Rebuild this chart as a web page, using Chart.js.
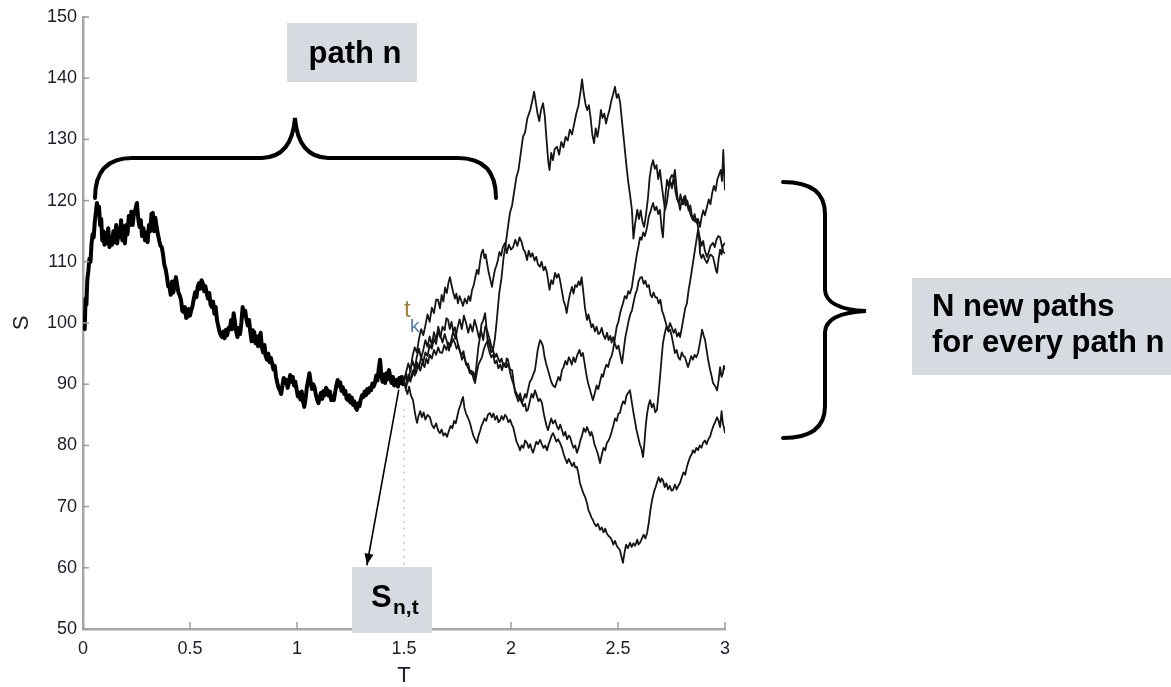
<!DOCTYPE html>
<html>
<head>
<meta charset="utf-8">
<title>Branching paths</title>
<script src="https://cdn.jsdelivr.net/npm/chart.js@4.4.1/dist/chart.umd.min.js"></script>
<style>
  html, body { margin: 0; padding: 0; background: #fff; }
  #wrap { width: 1171px; height: 687px; }
</style>
</head>
<body>
<div id="wrap"><canvas id="chart" width="1171" height="687"></canvas></div>
<script>
// axis ticks
const xTicks = [0, 0.5, 1, 1.5, 2, 2.5, 3];
const yTicks = [50, 60, 70, 80, 90, 100, 110, 120, 130, 140, 150];

// path n as [T, S]
const pathN = [
  [0.000,99.5],[0.004,101],[0.008,99],[0.012,104],[0.016,103],[0.020,107],[0.025,108.5],[0.030,110.5],[0.035,110],[0.040,113],
  [0.045,114.5],[0.050,114],[0.055,116.5],[0.060,118],[0.065,119.6],[0.070,118],[0.075,119],[0.080,116],[0.085,117],[0.090,113.5],
  [0.095,115],[0.100,112.8],[0.106,114.7],[0.112,113],[0.118,115.5],[0.124,112.4],[0.130,114],[0.136,112.8],[0.142,115],[0.148,113.2],
  [0.155,116],[0.160,113],[0.166,115.5],[0.172,114],[0.178,116.8],[0.184,113.5],[0.190,115.8],[0.196,113],[0.202,116],[0.208,114.5],
  [0.214,117.5],[0.220,116],[0.226,118.2],[0.232,116],[0.238,117.8],[0.244,118.5],[0.252,119.6],[0.258,117],[0.264,115.7],[0.270,116.8],
  [0.276,114.2],[0.282,115.5],[0.290,113.5],[0.296,114.8],[0.302,113.2],[0.308,116],[0.314,115],[0.320,117.8],[0.326,118],[0.332,115],
  [0.338,117.2],[0.344,115.7],[0.350,114.5],[0.356,113.5],[0.362,112.6],[0.368,112.4],[0.374,111.2],[0.380,109.5],[0.386,108.8],[0.392,107.6],
  [0.398,106],[0.404,105.9],[0.410,104.6],[0.416,106.8],[0.422,105],[0.428,106.2],[0.434,107.5],[0.440,106.2],[0.446,105],[0.452,104.5],
  [0.458,103.8],[0.464,102],[0.470,101.8],[0.476,102.6],[0.482,100.8],[0.488,101],[0.494,102.3],[0.500,101.2],[0.506,102.1],[0.512,102.8],
  [0.518,104],[0.524,105],[0.530,104.2],[0.536,105.9],[0.542,106.5],[0.548,105.6],[0.554,107],[0.560,106.5],[0.566,105.2],[0.572,106],
  [0.578,104.9],[0.584,104],[0.590,104.9],[0.596,103],[0.602,102.6],[0.608,103.5],[0.614,101.5],[0.620,102.6],[0.626,100.5],[0.632,99.5],
  [0.638,98.6],[0.644,98],[0.650,97.7],[0.656,98.6],[0.662,97.5],[0.668,98.9],[0.674,98],[0.680,99.2],[0.686,98.9],[0.692,100.5],
  [0.698,99],[0.704,101.6],[0.710,100.2],[0.716,98.6],[0.722,97.7],[0.728,99.2],[0.734,98.2],[0.740,100],[0.746,102.6],[0.752,101.2],
  [0.758,102],[0.764,100.5],[0.770,99.6],[0.776,100.5],[0.782,98.5],[0.788,97],[0.794,98.8],[0.800,98.5],[0.806,96.7],[0.812,97.8],
  [0.818,96.2],[0.824,97.5],[0.830,98.4],[0.836,96],[0.842,95.2],[0.848,96.4],[0.854,94.5],[0.860,94],[0.866,95],[0.872,93.6],
  [0.878,94.3],[0.884,93.4],[0.890,92.4],[0.896,93],[0.902,91.2],[0.908,90.2],[0.914,89.4],[0.920,89],[0.926,88.4],[0.932,89.8],
  [0.938,91],[0.944,90.2],[0.950,90.7],[0.956,89.4],[0.962,90.2],[0.968,91.5],[0.974,90.4],[0.980,91.2],[0.986,89.8],[0.992,90.4],
  [0.998,89.2],[1.004,88],[1.010,88.6],[1.016,87.5],[1.022,88.8],[1.028,87.2],[1.034,86.3],[1.040,87.6],[1.046,89.5],[1.052,90.6],
  [1.058,91.8],[1.064,90.4],[1.070,89.2],[1.076,90],[1.082,89.5],[1.088,88.3],[1.094,87.5],[1.100,86.9],[1.106,87.8],[1.112,88.6],
  [1.118,87.6],[1.124,88.9],[1.130,88.2],[1.136,89.4],[1.142,89],[1.148,88.1],[1.154,88.8],[1.160,87.4],[1.166,88],[1.172,87.4],
  [1.178,88.6],[1.184,89.8],[1.190,90.7],[1.196,89.7],[1.202,90.3],[1.208,88.9],[1.214,89.5],[1.220,88.4],[1.226,88.9],[1.232,87.6],
  [1.238,87.4],[1.244,88.2],[1.250,87],[1.256,87.8],[1.262,86.6],[1.268,87.2],[1.274,86.2],[1.280,85.8],[1.286,86.9],[1.292,86.4],
  [1.298,87.5],[1.304,88.2],[1.310,87.9],[1.316,88.8],[1.322,88.2],[1.328,89.2],[1.334,88.6],[1.340,89.4],[1.346,89],[1.352,90.1],
  [1.358,89.6],[1.364,90.2],[1.370,91.4],[1.376,90.6],[1.382,92.5],[1.388,94],[1.394,91.5],[1.400,90.4],[1.406,91.6],[1.412,90.2],
  [1.418,91.8],[1.424,90.8],[1.430,92.3],[1.436,91],[1.442,90.2],[1.448,91.2],[1.454,89.8],[1.460,90.6],[1.466,90.7],[1.472,89.6],
  [1.478,91],[1.484,90.2],[1.490,91.2],[1.495,90],[1.500,90.5]
];

// the N new paths from t = 1.5
const pathA = [
  [1.500,90.5],[1.510,91.8],[1.520,90.6],[1.530,92.4],[1.540,93.8],[1.550,92.6],[1.560,94.5],[1.570,95.8],[1.580,94.2],[1.590,95.6],
  [1.600,97.2],[1.610,96.1],[1.620,97.8],[1.630,96.4],[1.640,98.5],[1.650,97.2],[1.660,99.4],[1.670,98],[1.680,96.8],[1.690,98.2],
  [1.700,97],[1.710,95.5],[1.720,97.1],[1.730,98.6],[1.740,97.4],[1.750,99.2],[1.760,100.6],[1.770,99],[1.780,101.2],[1.790,100],
  [1.800,98.4],[1.810,99.8],[1.820,98.6],[1.830,100.5],[1.840,99.2],[1.850,97.6],[1.860,98.8],[1.870,97.2],[1.880,99.5],[1.890,98.6],
  [1.900,97.4],[1.910,96],[1.916,95.6],[1.925,97.5],[1.935,101],[1.945,104.9],[1.955,107.2],[1.965,110.6],[1.975,112.8],[1.985,115.5],
  [1.995,118],[2.005,119.2],[2.015,121.5],[2.025,123.8],[2.035,125],[2.045,127.6],[2.056,130.4],[2.066,131.2],[2.076,133.4],[2.090,134.8],
  [2.100,136.4],[2.108,137.8],[2.116,136],[2.124,134.2],[2.132,133],[2.140,134.8],[2.150,135.9],[2.158,133.8],[2.166,130],[2.174,126.4],
  [2.180,125],[2.188,127.8],[2.196,126.6],[2.204,128.4],[2.215,128.8],[2.225,127.5],[2.235,129.6],[2.245,128.7],[2.255,130.4],[2.265,129.8],
  [2.275,131.6],[2.285,130.8],[2.295,132.5],[2.305,134.2],[2.315,135.5],[2.325,137.8],[2.332,139.8],[2.340,137.5],[2.348,135.8],[2.356,134.8],
  [2.364,135.6],[2.372,133.5],[2.380,130.8],[2.388,129.4],[2.396,131.8],[2.404,130.4],[2.412,132.2],[2.420,134.8],[2.428,133.5],[2.436,134.2],
  [2.444,132.6],[2.452,133.8],[2.460,134.8],[2.468,136.2],[2.476,137.2],[2.486,138.6],[2.494,136.8],[2.502,137.4],[2.510,136],[2.520,132.5],
  [2.530,129],[2.540,125.5],[2.548,123],[2.556,121],[2.565,118.5],[2.572,113.8],[2.580,116.2],[2.590,118.5],[2.598,117],[2.606,118.4],
  [2.614,116.6],[2.622,115.7],[2.630,117.5],[2.640,120.4],[2.648,123.8],[2.656,125.6],[2.664,126.6],[2.672,125.2],[2.680,125.8],[2.688,123.5],
  [2.696,125],[2.704,122.6],[2.712,120.4],[2.720,118.5],[2.728,119.6],[2.736,121.8],[2.744,123.2],[2.752,122],[2.760,123.9],[2.768,121.6],
  [2.776,120.2],[2.784,119.6],[2.792,121],[2.800,119.4],[2.808,120.6],[2.816,119.2],[2.824,120],[2.832,118.6],[2.840,117.6],[2.850,116.8],
  [2.858,117.8],[2.866,116.4],[2.874,117],[2.883,115.7],[2.890,117.2],[2.898,118.4],[2.906,117.6],[2.916,119],[2.924,120.2],[2.932,119.4],
  [2.940,121.2],[2.948,122.4],[2.956,121.6],[2.964,123.4],[2.972,124.2],[2.980,125],[2.986,123.2],[2.992,128.3],[2.996,124.5],[3.000,121.7]
];

const pathB = [
  [1.500,90.5],[1.510,92],[1.520,93.4],[1.530,92.2],[1.540,94.6],[1.550,96],[1.560,95.2],[1.570,97.4],[1.580,99],[1.590,98],
  [1.600,99.6],[1.610,101.4],[1.620,100.2],[1.630,102.5],[1.640,101.6],[1.650,103.8],[1.659,103.8],[1.668,102.4],[1.676,104.6],[1.684,103.5],
  [1.692,105.8],[1.700,104.9],[1.708,106.6],[1.715,107.5],[1.722,106.2],[1.730,105],[1.738,104],[1.745,104.8],[1.752,103.2],[1.760,104.4],
  [1.768,103.6],[1.776,102.8],[1.784,104],[1.794,103.2],[1.802,104.4],[1.810,103.6],[1.818,105.4],[1.826,106.2],[1.834,107.6],[1.841,108.7],
  [1.848,108],[1.856,110.2],[1.862,111.4],[1.869,112],[1.876,110.6],[1.882,111.2],[1.888,109.8],[1.896,108.2],[1.904,107],[1.911,105.9],
  [1.918,107.4],[1.925,108.7],[1.932,109.4],[1.939,110.3],[1.946,111.6],[1.954,111],[1.962,112.4],[1.972,113.1],[1.980,111.4],[1.990,112.8],
  [2.000,112],[2.010,112.4],[2.020,113.6],[2.030,112.6],[2.040,114],[2.050,113.2],[2.058,112],[2.066,111.6],[2.075,110.3],[2.083,111.8],
  [2.092,110.8],[2.100,111.4],[2.110,110.2],[2.118,110.8],[2.126,109.6],[2.135,109.2],[2.143,110],[2.152,108.6],[2.160,109.2],[2.168,108.2],
  [2.175,106.6],[2.180,105.4],[2.188,107],[2.196,106.4],[2.206,108.2],[2.214,107.4],[2.222,108],[2.229,107],[2.238,105.2],[2.246,103.6],
  [2.254,102.8],[2.260,101.6],[2.268,103.4],[2.276,104.8],[2.285,105.9],[2.292,104.8],[2.300,106.2],[2.308,105.9],[2.316,106.8],[2.323,106.2],
  [2.330,107.5],[2.338,105],[2.346,102.4],[2.355,100.5],[2.362,101.4],[2.370,100.2],[2.376,99.3],[2.383,99.8],[2.392,98.6],[2.400,99.4],
  [2.408,98.2],[2.416,98.4],[2.424,99.2],[2.432,98],[2.440,97.4],[2.449,98.4],[2.456,97.2],[2.464,97.9],[2.470,96.8],[2.477,97.7],
  [2.486,96.6],[2.494,95.8],[2.502,96.3],[2.509,95.1],[2.514,94.2],[2.519,93.4],[2.526,95.4],[2.534,97.6],[2.542,99],[2.550,100.4],
  [2.558,101.5],[2.565,102],[2.574,103.6],[2.582,104.8],[2.589,105.4],[2.596,106.8],[2.604,107.4],[2.612,107.5],[2.620,106.4],[2.628,106.9],
  [2.636,105.9],[2.644,106.2],[2.652,104.6],[2.659,104.2],[2.666,105],[2.674,104.2],[2.682,104.2],[2.690,103.2],[2.698,103.8],[2.706,102],
  [2.714,101.2],[2.722,100.2],[2.729,99.3],[2.736,98.6],[2.744,98.9],[2.752,97.7],[2.758,96.6],[2.766,95.1],[2.774,95.6],[2.782,94.4],
  [2.790,94],[2.798,95.2],[2.806,94.6],[2.813,94.4],[2.820,93.6],[2.827,92.8],[2.834,93.6],[2.842,94.6],[2.850,94],[2.858,94.8],
  [2.866,94.4],[2.874,95.1],[2.884,97],[2.893,98.9],[2.900,98],[2.907,97.2],[2.914,95.6],[2.921,94],[2.930,92.4],[2.937,91.4],
  [2.944,90.2],[2.952,89.8],[2.958,89.4],[2.963,89],[2.970,90.6],[2.977,92.8],[2.984,91.2],[2.990,91.8],[2.995,93],[3.000,92.3]
];

const pathC = [
  [1.500,90.5],[1.510,89.4],[1.520,91.2],[1.530,90.4],[1.540,92.2],[1.550,91.4],[1.560,93.6],[1.570,92.8],[1.580,94.4],[1.590,93.6],
  [1.600,95.2],[1.610,94.6],[1.620,96.4],[1.630,95.8],[1.640,97.4],[1.650,96.6],[1.660,98.8],[1.670,97.6],[1.680,99.4],[1.690,98.8],
  [1.698,100.8],[1.706,100.5],[1.714,99],[1.722,100.2],[1.730,98.6],[1.738,99.3],[1.746,97.6],[1.754,96.2],[1.762,95.4],[1.771,94],
  [1.780,94.8],[1.790,93.2],[1.799,93.4],[1.808,92.2],[1.816,91.6],[1.824,92],[1.832,90.7],[1.840,93.6],[1.848,96.2],[1.855,97.7],
  [1.862,99.8],[1.870,100.4],[1.879,101.6],[1.886,99],[1.893,96.1],[1.900,95.2],[1.908,94.4],[1.916,94.8],[1.925,93.4],[1.933,93.9],
  [1.941,92.6],[1.950,93.2],[1.958,92.3],[1.966,93.4],[1.974,92.8],[1.980,94.2],[1.986,94],[1.994,92.2],[2.002,91],[2.010,90.2],
  [2.019,89],[2.027,88.4],[2.035,87.8],[2.043,88.5],[2.051,86.9],[2.058,87.6],[2.066,88.4],[2.072,87.8],[2.079,89],[2.088,90.4],
  [2.096,90.8],[2.104,91.6],[2.112,92.3],[2.118,93.8],[2.124,95.4],[2.130,96.4],[2.136,97.2],[2.143,96.8],[2.150,96.1],[2.157,94.4],
  [2.164,93.4],[2.173,92.3],[2.180,91.4],[2.188,90.4],[2.196,89.8],[2.206,89.5],[2.214,90.4],[2.222,91.2],[2.230,90.6],[2.238,92.3],
  [2.246,92.8],[2.254,93.8],[2.262,93.2],[2.270,94.4],[2.276,94],[2.284,93.2],[2.292,94.4],[2.300,93.6],[2.310,94.8],[2.320,95.6],
  [2.328,94.6],[2.336,95.1],[2.344,93.4],[2.352,91.6],[2.360,90.2],[2.368,89.2],[2.376,88.2],[2.383,87.4],[2.392,88.6],[2.400,89.8],
  [2.408,89.2],[2.416,90.4],[2.424,91.6],[2.430,91.2],[2.438,92.4],[2.446,93.2],[2.454,92.8],[2.462,94],[2.470,94.6],[2.477,95.6],
  [2.486,97.6],[2.494,99.4],[2.502,100.2],[2.510,101.6],[2.516,102.4],[2.523,103.2],[2.532,104.4],[2.540,104],[2.548,105.2],[2.556,104.8],
  [2.565,105.9],[2.572,107.6],[2.580,109.4],[2.588,111.2],[2.596,112.6],[2.603,114],[2.610,113.6],[2.618,114.8],[2.626,114.2],[2.636,115.7],
  [2.644,117.4],[2.652,118.2],[2.658,119],[2.664,119.6],[2.672,118.4],[2.680,119],[2.688,117.8],[2.696,118.5],[2.704,115.4],[2.710,114],
  [2.716,117.6],[2.722,121],[2.729,123.4],[2.736,122.4],[2.744,123.6],[2.752,124.2],[2.760,123.8],[2.766,125],[2.772,122.6],[2.778,120.4],
  [2.784,119.6],[2.790,118.5],[2.798,120.2],[2.806,119.4],[2.814,120.8],[2.822,119.6],[2.830,118.4],[2.838,119.2],[2.845,117.6],[2.850,117.3],
  [2.858,116.6],[2.866,117],[2.874,115.7],[2.880,113.2],[2.883,111.4],[2.890,110.6],[2.898,111.2],[2.906,110.4],[2.916,109.8],[2.924,110.6],
  [2.932,111.2],[2.944,110.8],[2.952,109.6],[2.958,108.6],[2.963,108.2],[2.970,110.4],[2.977,112],[2.984,111.2],[2.990,112.6],[3.000,113.1]
];

const pathD = [
  [1.500,90.5],[1.508,91.4],[1.516,90.2],[1.524,91.6],[1.530,90.8],[1.537,91.2],[1.546,92.4],[1.556,91.8],[1.566,93],[1.576,92.2],
  [1.586,93.6],[1.596,92.8],[1.604,94.2],[1.612,93.4],[1.620,94.8],[1.630,94.2],[1.640,95.6],[1.650,94.8],[1.660,96],[1.668,95.2],
  [1.678,95.1],[1.688,96.4],[1.698,95.6],[1.708,96.8],[1.718,96.2],[1.728,97.4],[1.738,96.7],[1.746,95.8],[1.754,96.4],[1.762,95.2],
  [1.770,94.8],[1.778,95.4],[1.785,94],[1.792,93.2],[1.800,92.6],[1.808,91.8],[1.816,92.2],[1.824,91],[1.832,90.2],[1.840,91.8],
  [1.848,93.2],[1.856,93.8],[1.864,94.4],[1.872,95.6],[1.880,96.4],[1.886,96.8],[1.893,97.2],[1.900,96.4],[1.908,95.2],[1.916,95.6],
  [1.925,94.4],[1.932,95],[1.940,94.2],[1.948,93.6],[1.956,94.2],[1.964,93],[1.972,93.4],[1.980,92.8],[1.988,93.4],[1.996,92.4],
  [2.005,92.3],[2.012,90.4],[2.019,88.6],[2.026,88],[2.034,87.2],[2.042,87.8],[2.051,86.9],[2.058,86.4],[2.066,86.8],[2.072,85.6],
  [2.079,85.8],[2.088,87.2],[2.096,88.4],[2.104,87.8],[2.112,89],[2.120,88.2],[2.128,87.2],[2.136,87.6],[2.145,86.9],[2.152,85.4],
  [2.158,84.4],[2.166,83.2],[2.173,82.5],[2.180,83.4],[2.188,84.4],[2.196,83.6],[2.206,84.1],[2.214,83.2],[2.222,82.6],[2.230,83.4],
  [2.238,82.5],[2.246,81.6],[2.254,82.2],[2.262,81],[2.270,81.6],[2.276,81.4],[2.284,80.4],[2.292,79.6],[2.300,80],[2.308,78.8],
  [2.316,79.6],[2.324,80.8],[2.332,81.6],[2.340,82.8],[2.348,82.2],[2.355,83],[2.362,82.4],[2.370,81.6],[2.376,82.2],[2.383,81.4],
  [2.390,80.2],[2.398,79.4],[2.406,78.6],[2.416,77.1],[2.424,78.4],[2.432,79.6],[2.440,79.2],[2.448,80.4],[2.456,80.8],[2.463,81.4],
  [2.470,82.2],[2.478,83.2],[2.486,84.4],[2.494,84],[2.502,85.2],[2.509,85.3],[2.516,86.4],[2.524,87.2],[2.532,86.8],[2.540,88.2],
  [2.548,88.6],[2.556,89],[2.563,87.4],[2.570,85.8],[2.578,84.2],[2.586,82.6],[2.594,81.4],[2.602,80.2],[2.610,79.4],[2.617,78.1],
  [2.624,80.6],[2.630,83.4],[2.636,85.2],[2.643,86.6],[2.650,87.4],[2.658,86.2],[2.666,86.8],[2.674,85.4],[2.682,85.8],[2.690,88.6],
  [2.698,91.8],[2.704,94.4],[2.710,96.7],[2.718,98.2],[2.726,99.4],[2.734,98.8],[2.743,100],[2.752,99.2],[2.760,98.4],[2.768,99],
  [2.776,97.8],[2.784,98.4],[2.790,97.7],[2.798,99.2],[2.806,100.8],[2.814,102.4],[2.822,103.2],[2.830,105.4],[2.838,107],[2.845,108.6],
  [2.850,109.8],[2.858,111.6],[2.866,113.4],[2.874,115.2],[2.882,114],[2.890,112.6],[2.898,113.4],[2.906,111.8],[2.916,110.8],[2.924,111.6],
  [2.932,112.6],[2.944,113.1],[2.952,112.4],[2.960,113.6],[2.968,114.2],[2.977,114],[2.984,112.8],[2.992,111.6],[3.000,111.4]
];

const pathE = [
  [1.500,90.5],[1.508,89.2],[1.516,88.4],[1.524,89.6],[1.532,88.2],[1.542,87.4],[1.550,85.6],[1.556,84.4],[1.561,83.7],[1.568,84.8],
  [1.576,85.6],[1.584,84.6],[1.592,85.4],[1.600,84.2],[1.610,85],[1.621,84.6],[1.630,83.4],[1.640,82.8],[1.650,83.6],[1.660,82.4],
  [1.668,82],[1.676,82.6],[1.684,81.6],[1.692,82],[1.701,81.4],[1.710,82.4],[1.718,83.2],[1.726,82.8],[1.734,84],[1.742,83.6],
  [1.748,84.6],[1.756,85.8],[1.764,86.6],[1.770,87.4],[1.776,87.9],[1.782,86.2],[1.790,85.2],[1.798,84.6],[1.808,83.7],[1.816,82.6],
  [1.824,81.6],[1.832,81],[1.841,80.4],[1.848,81.6],[1.856,82.4],[1.862,83.2],[1.869,83.7],[1.876,84.4],[1.884,84],[1.892,85],
  [1.902,85.3],[1.910,84.6],[1.918,85.2],[1.926,84.2],[1.934,84.8],[1.942,83.8],[1.949,84.1],[1.956,84.8],[1.964,84.2],[1.972,85],
  [1.980,84.6],[1.988,83.8],[1.996,84.2],[2.004,83.4],[2.010,83],[2.018,81.8],[2.026,80.6],[2.034,80],[2.042,79.2],[2.050,80],
  [2.058,79.6],[2.066,80.8],[2.075,80.4],[2.082,79.6],[2.090,80.2],[2.096,79.4],[2.103,78.8],[2.110,79.6],[2.118,80.6],[2.126,80.2],
  [2.136,80.9],[2.144,80.2],[2.152,79.6],[2.160,80],[2.168,79.2],[2.176,80.2],[2.184,81],[2.190,81.6],[2.196,82],[2.204,81.4],
  [2.212,80.6],[2.220,81],[2.229,80.4],[2.238,79.6],[2.246,78.6],[2.254,77.8],[2.262,77.1],[2.270,77.8],[2.278,77.2],[2.286,76.6],
  [2.294,77.2],[2.300,76.4],[2.308,76.5],[2.316,75.2],[2.322,73.9],[2.330,73],[2.338,72.2],[2.346,71.6],[2.355,70.6],[2.362,69.4],
  [2.370,68.8],[2.376,68.2],[2.383,67.8],[2.390,67.2],[2.398,66.8],[2.406,67.2],[2.416,66.2],[2.424,66.6],[2.432,65.8],[2.440,66.4],
  [2.448,65.6],[2.456,65.2],[2.463,65],[2.470,64.6],[2.478,63.8],[2.486,64.4],[2.494,63.6],[2.502,63.2],[2.509,62.9],[2.516,61.8],
  [2.523,60.8],[2.530,62.4],[2.538,63.8],[2.546,63.2],[2.556,64.1],[2.564,63.4],[2.572,64],[2.580,63.6],[2.590,64.6],[2.596,63.8],
  [2.603,64.1],[2.612,64.8],[2.620,65.4],[2.628,64.8],[2.636,65.7],[2.644,67.4],[2.652,69.6],[2.660,71.2],[2.668,72.4],[2.676,73.2],
  [2.682,73.9],[2.690,74.8],[2.698,74],[2.704,74.6],[2.710,74.3],[2.718,73.2],[2.726,73.8],[2.734,72.8],[2.742,73.4],[2.750,72.6],
  [2.757,72.7],[2.766,73.6],[2.774,72.8],[2.782,73.4],[2.790,73.9],[2.798,74.8],[2.806,75.6],[2.814,75.2],[2.822,76.5],[2.830,77.4],
  [2.838,78.2],[2.845,78.6],[2.850,79.2],[2.858,78.8],[2.866,79.6],[2.874,79.2],[2.882,80],[2.890,79.6],[2.897,80.4],[2.906,80.8],
  [2.914,80.2],[2.922,81],[2.930,81.4],[2.938,82.4],[2.946,83.2],[2.954,83.8],[2.963,84.6],[2.970,84],[2.977,83],[2.984,85.6],
  [2.990,83.6],[2.996,82.8],[3.000,82]
];

const branches = [pathA, pathB, pathC, pathD, pathE];
const toXY = arr => arr.map(([x, y]) => ({ x, y }));

const labelFont = { family: "'Liberation Sans', Arial, sans-serif", size: 18 };
const boxFill = '#d6dbe2';

// braces, boxes, arrow and the inward axis ticks
const annotations = {
  id: 'annotations',
  afterDraw(chart) {
    const ctx = chart.ctx;
    const xs = chart.scales.x;
    const ys = chart.scales.y;
    const px = v => xs.getPixelForValue(v);
    const py = v => ys.getPixelForValue(v);
    ctx.save();

    // ticks pointing into the plot
    ctx.strokeStyle = '#9c9c9c';
    ctx.lineWidth = 1.5;
    xTicks.forEach(t => {
      ctx.beginPath();
      ctx.moveTo(px(t), ys.bottom);
      ctx.lineTo(px(t), ys.bottom - 7);
      ctx.stroke();
    });
    yTicks.forEach(v => {
      ctx.beginPath();
      ctx.moveTo(xs.left, py(v));
      ctx.lineTo(xs.left + 6, py(v));
      ctx.stroke();
    });

    // dotted drop line at t = 1.5
    ctx.strokeStyle = '#c4c4c4';
    ctx.lineWidth = 1.5;
    ctx.setLineDash([2, 5]);
    ctx.beginPath();
    ctx.moveTo(px(1.5), py(86));
    ctx.lineTo(px(1.5), 567);
    ctx.stroke();
    ctx.setLineDash([]);

    // t_k label
    ctx.font = "24px 'Liberation Sans', Arial, sans-serif";
    ctx.textAlign = 'left';
    ctx.textBaseline = 'alphabetic';
    ctx.fillStyle = '#a5803f';
    ctx.fillText('t', 404, 317);
    ctx.font = "19px 'Liberation Sans', Arial, sans-serif";
    ctx.fillStyle = '#4f7bb5';
    ctx.fillText('k', 410, 332);

    // braces
    ctx.strokeStyle = '#000';
    ctx.lineWidth = 4;
    ctx.lineCap = 'round';
    ctx.beginPath();
    ctx.moveTo(95, 198);
    ctx.quadraticCurveTo(95, 158, 132, 158);
    ctx.lineTo(262, 158);
    ctx.quadraticCurveTo(292, 157, 295, 118);
    ctx.quadraticCurveTo(298, 157, 328, 158);
    ctx.lineTo(458, 158);
    ctx.quadraticCurveTo(496, 158, 496, 198);
    ctx.stroke();

    ctx.beginPath();
    ctx.moveTo(783, 182);
    ctx.quadraticCurveTo(825, 182, 825, 214);
    ctx.lineTo(825, 290);
    ctx.quadraticCurveTo(826, 309, 866, 311);
    ctx.quadraticCurveTo(826, 313, 825, 332);
    ctx.lineTo(825, 406);
    ctx.quadraticCurveTo(825, 438, 783, 438);
    ctx.stroke();

    // arrow from S(n,t) on the path to its label
    const x1 = px(1.475), y1 = py(89);
    const x2 = px(1.327), y2 = py(60.5);
    ctx.lineWidth = 1.6;
    ctx.beginPath();
    ctx.moveTo(x1, y1);
    ctx.lineTo(x2, y2);
    ctx.stroke();
    const ang = Math.atan2(y2 - y1, x2 - x1);
    ctx.fillStyle = '#000';
    ctx.beginPath();
    ctx.moveTo(x2, y2);
    ctx.lineTo(x2 - 11 * Math.cos(ang) + 4.5 * Math.sin(ang), y2 - 11 * Math.sin(ang) - 4.5 * Math.cos(ang));
    ctx.lineTo(x2 - 11 * Math.cos(ang) - 4.5 * Math.sin(ang), y2 - 11 * Math.sin(ang) + 4.5 * Math.cos(ang));
    ctx.closePath();
    ctx.fill();

    // label boxes
    const bold = s => 'bold ' + s + "px 'Liberation Sans', Arial, sans-serif";
    ctx.fillStyle = boxFill;
    ctx.fillRect(287, 23, 130, 59);
    ctx.fillRect(912, 278, 259, 97);
    ctx.fillRect(352, 567, 80, 66);

    ctx.fillStyle = '#000';
    ctx.font = bold(31);
    ctx.textAlign = 'center';
    ctx.fillText('path n', 355, 63);

    ctx.textAlign = 'left';
    ctx.fillText('N new paths', 932, 316);
    ctx.fillText('for every path n', 932, 352);

    ctx.fillText('S', 371, 607);
    ctx.font = bold(21);
    ctx.fillText('n,t', 393, 614);

    ctx.restore();
  }
};

const datasets = [
  ...branches.map(p => ({
    data: toXY(p),
    borderColor: '#151515',
    borderWidth: 1.8,
    pointRadius: 0,
    tension: 0
  })),
  {
    data: toXY(pathN),
    borderColor: '#000',
    borderWidth: 4,
    pointRadius: 0,
    tension: 0
  }
];

new Chart(document.getElementById('chart'), {
  type: 'line',
  data: { datasets },
  options: {
    responsive: false,
    animation: false,
    layout: { padding: { top: 17, right: 446, bottom: 0, left: 0 } },
    plugins: { legend: { display: false }, tooltip: { enabled: false } },
    elements: { line: { borderJoinStyle: 'round' } },
    scales: {
      x: {
        type: 'linear',
        min: 0,
        max: 3,
        afterFit: scale => { scale.height = 58; },
        ticks: {
          stepSize: 0.5,
          color: '#1c1c2c',
          font: labelFont,
          padding: 9,
          maxRotation: 0,
          callback: v => String(v)
        },
        grid: { drawOnChartArea: false, drawTicks: false },
        border: { color: '#a8a8a8', width: 2.5 },
        title: {
          display: true,
          text: 'T',
          color: '#1c1c2c',
          font: { family: "'Liberation Sans', Arial, sans-serif", size: 22, lineHeight: 1 },
          padding: { top: 0, bottom: 0 }
        }
      },
      y: {
        min: 50,
        max: 150,
        afterFit: scale => { scale.width = 83; },
        ticks: { stepSize: 10, color: '#1c1c2c', font: labelFont, padding: 6 },
        grid: { drawOnChartArea: false, drawTicks: false },
        border: { color: '#a8a8a8', width: 2.5 },
        title: {
          display: true,
          text: 'S',
          color: '#1c1c2c',
          font: { family: "'Liberation Sans', Arial, sans-serif", size: 22, lineHeight: 1 },
          padding: { top: 11, bottom: 0 }
        }
      }
    }
  },
  plugins: [annotations]
});
</script>
</body>
</html>
